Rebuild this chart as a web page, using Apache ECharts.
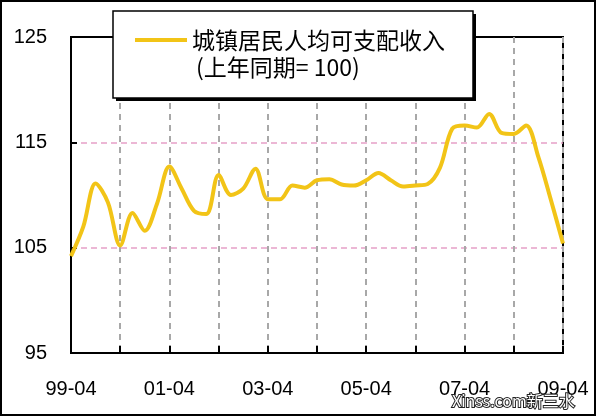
<!DOCTYPE html>
<html>
<head>
<meta charset="utf-8">
<script src="https://cdn.jsdelivr.net/npm/echarts@6/dist/echarts.min.js"></script>
<style>
html,body{margin:0;padding:0;background:#fff;}
#chart{width:596px;height:416px;}
</style>
</head>
<body>
<div id="chart"></div>
<script>
var seriesName = '城镇居民人均可支配收入';
var seriesNote = '(上年同期= 100)';
var categories = [
  '99-04',
  '00-01','00-02','00-03','00-04',
  '01-01','01-02','01-03','01-04',
  '02-01','02-02','02-03','02-04',
  '03-01','03-02','03-03','03-04',
  '04-01','04-02','04-03','04-04',
  '05-01','05-02','05-03','05-04',
  '06-01','06-02','06-03','06-04',
  '07-01','07-02','07-03','07-04',
  '08-01','08-02','08-03','08-04',
  '09-01','09-02','09-03','09-04'
];
var incomeIndex = [
  104.2, 107.0, 111.1, 109.3, 105.2, 108.3, 106.6, 109.2, 112.7, 110.6,
  108.5, 108.2, 111.9, 110.0, 110.6, 112.5, 109.6, 109.6, 110.9, 110.7,
  111.4, 111.5, 111.0, 110.9, 111.4, 112.1, 111.4, 110.8, 110.9, 111.05,
  112.6, 116.3, 116.6, 116.4, 117.7, 115.9, 115.8, 116.6, 113.6, 109.6,
  105.4
];
var yMin = 95, yMax = 125, yStep = 10;
var watermark = 'Xinss.com新三水';

var chart = echarts.init(document.getElementById('chart'));
var lineColor = '#F2C417';
var labelFont = {fontFamily: 'Liberation Sans', fontSize: 20, color: '#000'};
chart.setOption({
  animation: false,
  backgroundColor: '#fff',
  grid: {left: 71, top: 37, right: 33, bottom: 63, show: true, borderColor: '#000', borderWidth: 2, backgroundColor: 'transparent'},
  xAxis: {
    type: 'category',
    data: categories,
    boundaryGap: false,
    axisLine: {lineStyle: {color: '#000', width: 2}},
    axisTick: {show: true, inside: true, length: 7, interval: 3, lineStyle: {color: '#000', width: 2}},
    axisLabel: Object.assign({interval: 7, margin: 26}, labelFont),
    splitLine: {show: true, interval: 3, lineStyle: {color: '#a8a8a8', type: [6, 5], width: 2}}
  },
  yAxis: {
    type: 'value',
    min: yMin, max: yMax, interval: yStep,
    axisLine: {show: true, lineStyle: {color: '#000', width: 2}},
    axisTick: {show: true, inside: true, length: 6, lineStyle: {color: '#000', width: 2}},
    axisLabel: Object.assign({margin: 24}, labelFont),
    splitLine: {show: true, showMinLine: false, showMaxLine: false, lineStyle: {color: '#e6a0c8', type: [6, 4], width: 1.5}}
  },
  series: [{
    name: seriesName,
    type: 'line',
    data: incomeIndex,
    smooth: 0.33,
    showSymbol: false,
    lineStyle: {color: lineColor, width: 4},
    z: 5
  }],
  graphic: [
    {type: 'rect', z: 100, shape: {x: 116, y: 14, width: 360, height: 87}, style: {fill: '#000'}},
    {type: 'rect', z: 101, shape: {x: 113, y: 11, width: 360, height: 87}, style: {fill: '#fff', stroke: '#000', lineWidth: 1.5}},
    {type: 'line', z: 102, shape: {x1: 135, y1: 40, x2: 187, y2: 40}, style: {stroke: lineColor, lineWidth: 4}},
    {type: 'text', z: 102, x: 192, y: 40, style: {text: seriesName, fontFamily: 'Noto Sans CJK SC', fontSize: 23, fill: '#000', verticalAlign: 'middle'}},
    {type: 'text', z: 102, x: 196, y: 67, style: {text: seriesNote, fontFamily: 'Noto Sans CJK SC', fontSize: 23, fill: '#000', verticalAlign: 'middle'}},
    {type: 'text', z: 110, x: 452, y: 401, style: {text: watermark, fontFamily: 'Noto Sans CJK SC', fontSize: 16, fill: '#fff', stroke: '#222', lineWidth: 2, verticalAlign: 'middle'}},
    {type: 'rect', z: 120, shape: {x: 1, y: 1, width: 594, height: 414}, style: {fill: 'none', stroke: '#000', lineWidth: 2}}
  ]
});
</script>
</body>
</html>
